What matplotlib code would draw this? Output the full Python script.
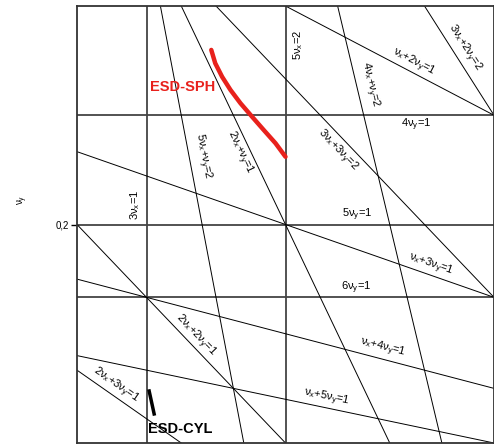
import numpy as np
import matplotlib
matplotlib.use("Agg")
import matplotlib.pyplot as plt

plt.rcParams['font.family'] = ['Liberation Sans', 'DejaVu Sans']
plt.rcParams['mathtext.fontset'] = 'custom'
plt.rcParams['mathtext.rm'] = 'Liberation Sans'
plt.rcParams['mathtext.it'] = 'Liberation Sans'

# resonance lines m*nux + n*nuy = p
res_m = [3, 5, 0, 0, 0, 5, 2, 3, 4, 1, 3, 1, 2, 1, 1, 2]
res_n = [0, 0, 4, 5, 6, 1, 1, 3, 1, 2, 2, 3, 2, 4, 5, 3]
res_p = [1, 2, 1, 1, 1, 2, 1, 2, 2, 1, 2, 1, 1, 1, 1, 1]

# measured working points
sph_x = [0.3644, 0.3663, 0.3696, 0.3736, 0.3784, 0.3840, 0.3896, 0.3952, 0.4000]
sph_y = [0.2799, 0.2738, 0.2676, 0.2616, 0.2555, 0.2493, 0.2432, 0.2372, 0.2310]
cyl_x = [0.3346, 0.3370]
cyl_y = [0.1238, 0.1133]

# label anchor for each resonance (data coords)
label_pos = [(0.3279, 0.209), (0.406, 0.282), (0.4625, 0.2455), (0.4346, 0.2043),
             (0.4337, 0.171), (0.360, 0.231), (0.378, 0.233), (0.425, 0.234),
             (0.440, 0.264), (0.4615, 0.274), (0.4856, 0.281), (0.4697, 0.1815),
             (0.3567, 0.1494), (0.4466, 0.1435), (0.4197, 0.1206), (0.3183, 0.1265)]


def term(c, v):
    if c == 0:
        return ''
    return ('' if c == 1 else str(c)) + 'ν$_{%s}$' % v


def res_label(m, n, p):
    parts = [t for t in (term(m, 'x'), term(n, 'y')) if t]
    return '+'.join(parts) + '=%d' % p


fig = plt.figure(figsize=(4.94, 4.45), dpi=100)
ax = fig.add_axes([77 / 494, 2 / 445, 417 / 494, 437 / 445])
ax.set_xlim(0.3, 0.5)
ax.set_ylim(0.1, 0.3)

xs = np.array([0.3, 0.5])
for m, n, p, (lx, ly) in zip(res_m, res_n, res_p, label_pos):
    if n == 0:
        ax.axvline(p / m, color='#444444', lw=1.3)
        ang = 90
    elif m == 0:
        ax.axhline(p / n, color='#444444', lw=1.3)
        ang = 0
    else:
        ax.plot(xs, (p - m * xs) / n, color='black', lw=0.7)
        ang = np.degrees(np.arctan2(-m / n, 1))
    ax.text(lx, ly, res_label(m, n, p), fontsize=8, rotation=ang,
            transform_rotates_text=True, rotation_mode='anchor',
            ha='center', va='center')

ax.plot(sph_x, sph_y, color='#e8211c', lw=3.2, solid_capstyle='round')
ax.plot(cyl_x, cyl_y, color='black', lw=2.5)
ax.text(0.3505, 0.263, 'ESD-SPH', color='#e8211c', fontsize=10.5,
        fontweight='bold', ha='center', va='center')
ax.text(0.3495, 0.1064, 'ESD-CYL', color='black', fontsize=10.5,
        fontweight='bold', ha='center', va='center')

ax.set_xticks([])
ax.set_yticks([0.2])
ax.set_yticklabels(['0,2'], fontsize=7)
ax.tick_params(axis='y', length=4, width=1, direction='out', pad=2)
ax.set_ylabel('ν$_{y}$', fontsize=7)
ax.yaxis.set_label_coords(-0.113, 0.556)
for s in ax.spines.values():
    s.set_linewidth(1.3)
    s.set_color('#333333')

fig.savefig('out.png', dpi=100)
